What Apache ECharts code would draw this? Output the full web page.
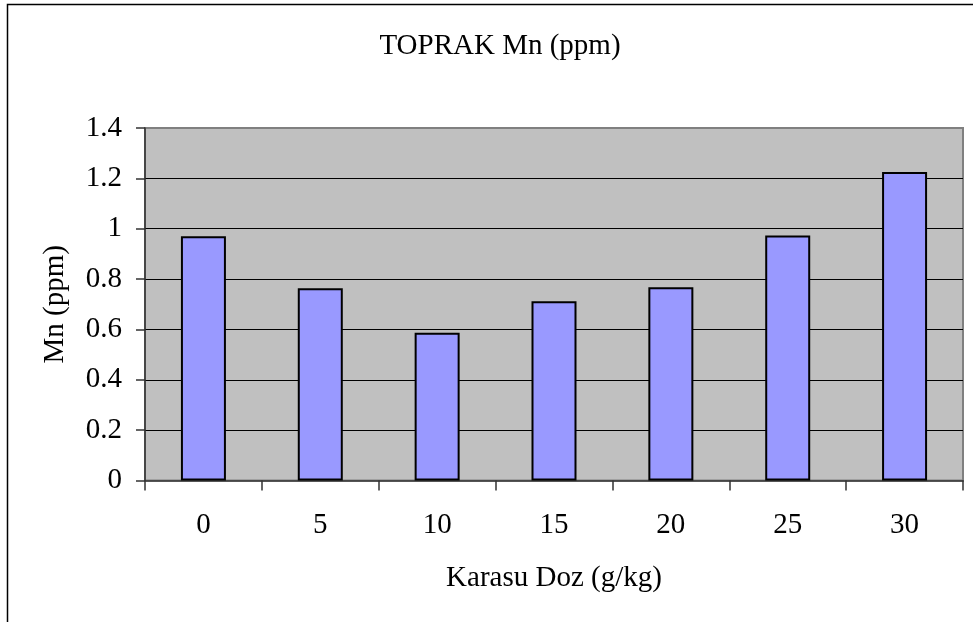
<!DOCTYPE html>
<html>
<head>
<meta charset="utf-8">
<script src="https://cdn.jsdelivr.net/npm/echarts@6/dist/echarts.min.js"></script>
<style>html,body{margin:0;padding:0;background:#fff;}#c{width:973px;height:622px;}</style>
</head>
<body>
<div id="c"></div>
<script>
const categories = ['0', '5', '10', '15', '20', '25', '30'];
const mnValues = [0.97, 0.764, 0.587, 0.712, 0.768, 0.973, 1.225];
const titleText = 'TOPRAK Mn (ppm)';
const xName = 'Karasu Doz (g/kg)';
const yName = 'Mn (ppm)';

const font = "'Liberation Serif', 'Times New Roman', serif";
const chart = echarts.init(document.getElementById('c'), null, {renderer: 'canvas'});
chart.setOption({
  animation: false,
  backgroundColor: '#ffffff',
  title: {
    text: titleText,
    left: 495,
    textAlign: 'center',
    top: 27,
    textStyle: {fontFamily: font, fontSize: 29, fontWeight: 'normal', color: '#000'}
  },
  graphic: [{
    type: 'rect',
    shape: {x: 7.5, y: 4.5, width: 1000, height: 700},
    style: {fill: 'none', stroke: '#000', lineWidth: 1.5},
    silent: true
  }],
  grid: {
    left: 145, top: 128, width: 818, height: 352.5,
    show: true, backgroundColor: '#C0C0C0', borderColor: '#808080', borderWidth: 2
  },
  xAxis: {
    type: 'category',
    data: categories,
    boundaryGap: true,
    name: xName,
    nameLocation: 'middle',
    nameGap: 83,
    nameTextStyle: {fontFamily: font, fontSize: 29, color: '#000'},
    axisLine: {lineStyle: {color: '#333', width: 1.5}},
    axisTick: {show: true, length: 10, lineStyle: {color: '#333', width: 1.5}},
    axisLabel: {fontFamily: font, fontSize: 29, color: '#000', margin: 30},
    splitLine: {show: false}
  },
  yAxis: {
    type: 'value',
    min: 0, max: 1.4, interval: 0.2,
    name: yName,
    nameLocation: 'middle',
    nameGap: 75,
    nameTextStyle: {fontFamily: font, fontSize: 29, color: '#000'},
    axisLine: {show: true, lineStyle: {color: '#333', width: 1.5}},
    axisTick: {show: true, length: 9, lineStyle: {color: '#333', width: 1.5}},
    axisLabel: {fontFamily: font, fontSize: 29, color: '#000', margin: 23},
    splitLine: {show: true, showMinLine: false, showMaxLine: false, lineStyle: {color: '#000', width: 1}}
  },
  series: [{
    type: 'bar',
    data: mnValues,
    barWidth: 45,
    itemStyle: {color: '#9999FF', borderColor: '#000', borderWidth: 2}
  }]
});
</script>
</body>
</html>
